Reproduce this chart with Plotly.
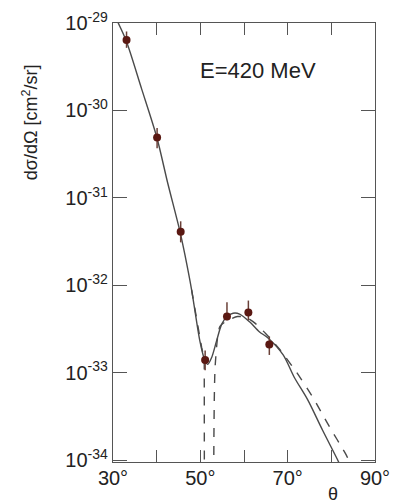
import plotly.graph_objects as go

# ---- data ----
theta_pts = [33.1, 40.1, 45.5, 51.1, 56.1, 61.0, 65.8]
xs_pts = [6.4e-30, 4.9e-31, 4.1e-32, 1.4e-33, 4.4e-33, 4.9e-33, 2.1e-33]
xs_hi = [8.0e-30, 6.3e-31, 5.4e-32, 1.8e-33, 6.4e-33, 6.7e-33, 2.6e-33]
xs_lo = [5.2e-30, 3.7e-31, 3.1e-32, 1.07e-33, 4.0e-33, 4.0e-33, 1.6e-33]

theta_solid = [30.8, 33.0, 36.5, 40.0, 42.5, 45.3, 46.5, 48.0, 49.9, 51.0, 51.7,
               52.6, 53.7, 54.9, 56.1, 57.5, 59.0, 61.35, 63.5, 65.5, 68.97,
               71.5, 74.6, 78.0, 81.7, 82.6]
xs_solid = [1.1e-29, 6.3e-30, 1.8e-30, 5.0e-31, 1.5e-31, 4.2e-32, 2.2e-32, 8.9e-33,
            2.3e-33, 1.4e-33, 1.25e-33, 1.5e-33, 2.3e-33, 3.6e-33, 4.4e-33, 4.8e-33,
            4.7e-33, 3.8e-33, 2.95e-33, 2.5e-33, 1.6e-33, 8.9e-34, 4.9e-34, 2.2e-34,
            9.5e-35, 7.6e-35]

theta_dash_l = [48.0, 49.9, 50.3, 50.9, 50.95]
xs_dash_l = [8.9e-33, 2.3e-33, 1.95e-33, 1.45e-33, 1e-36]

theta_dash_r = [53.05, 53.4, 54.5, 56.4, 58.5, 60.5, 62.5, 65.0, 68.0, 72.0,
                75.8, 79.2, 83.4, 84.3]
xs_dash_r = [1e-36, 1.2e-33, 3.4e-33, 4.0e-33, 4.4e-33, 4.3e-33, 3.7e-33, 2.8e-33,
             1.9e-33, 1.02e-33, 5.2e-34, 2.6e-34, 1.15e-34, 9.3e-35]

x_tickvals = [30, 40, 50, 60, 70, 80, 90]
x_ticktext = ["30°", "", "50°", "", "70°", "", "90°"]
y_tickvals = [1e-34, 1e-33, 1e-32, 1e-31, 1e-30, 1e-29]
y_ticktext = ["10<sup>-34</sup>", "10<sup>-33</sup>", "10<sup>-32</sup>",
              "10<sup>-31</sup>", "10<sup>-30</sup>", "10<sup>-29</sup>"]

LINE = "#4a4a4a"
MARK = "#5a1812"
FONT = "Liberation Sans, Arial, sans-serif"

fig = go.Figure()
fig.add_trace(go.Scatter(x=theta_solid, y=xs_solid, mode="lines",
                         line=dict(color=LINE, width=1.4, shape="spline", smoothing=0.8),
                         showlegend=False, hoverinfo="skip"))
fig.add_trace(go.Scatter(x=theta_dash_l, y=xs_dash_l, mode="lines",
                         line=dict(color=LINE, width=1.4, dash="dash"),
                         showlegend=False, hoverinfo="skip"))
fig.add_trace(go.Scatter(x=theta_dash_r, y=xs_dash_r, mode="lines",
                         line=dict(color=LINE, width=1.4, dash="dash", shape="spline", smoothing=0.6),
                         showlegend=False, hoverinfo="skip"))

err_plus = [h - v for h, v in zip(xs_hi, xs_pts)]
err_minus = [v - l for l, v in zip(xs_lo, xs_pts)]
fig.add_trace(go.Scatter(x=theta_pts, y=xs_pts, mode="markers",
                         marker=dict(color=MARK, size=8),
                         error_y=dict(type="data", array=err_plus, arrayminus=err_minus,
                                      color="#6a4038", thickness=1.5, width=0),
                         showlegend=False))

fig.update_xaxes(range=[30, 90], tickvals=x_tickvals, ticktext=x_ticktext,
                 ticks="inside", ticklen=12, tickwidth=1.2, tickcolor="#555",
                 showline=True, linecolor="#555", linewidth=1.4, mirror="ticks",
                 showgrid=False, zeroline=False, automargin=False,
                 ticklabelstandoff=-2,
                 tickfont=dict(family=FONT, size=20, color="#222"))
fig.update_yaxes(type="log", range=[-34.02, -29.0], tickvals=y_tickvals, ticktext=y_ticktext,
                 ticks="inside", ticklen=14, tickwidth=1.2, tickcolor="#555",
                 showline=True, linecolor="#555", linewidth=1.4, mirror="ticks",
                 showgrid=False, zeroline=False, automargin=False,
                 tickfont=dict(family=FONT, size=20, color="#222"))

fig.add_annotation(text="E=420 MeV", xref="paper", yref="paper", x=0.553, y=0.891,
                   xanchor="center", yanchor="middle",
                   showarrow=False, font=dict(family=FONT, size=22, color="#222"))
fig.add_annotation(text="θ", xref="paper", yref="paper", x=0.84, y=-0.074,
                   xanchor="center", yanchor="middle",
                   showarrow=False, font=dict(family=FONT, size=18, color="#222"))
fig.add_annotation(text="dσ/dΩ [cm<sup>2</sup>/sr]", xref="paper", yref="paper",
                   x=-0.317, y=0.774, textangle=-90, xanchor="center", yanchor="middle",
                   showarrow=False, font=dict(family=FONT, size=18, color="#222"))

fig.update_layout(width=395, height=504, margin=dict(l=113, r=20, t=23, b=42),
                  paper_bgcolor="white", plot_bgcolor="white",
                  font=dict(family=FONT))
fig.write_html("out.html", config={"displayModeBar": False},
               post_script="document.body.style.margin='0';")
